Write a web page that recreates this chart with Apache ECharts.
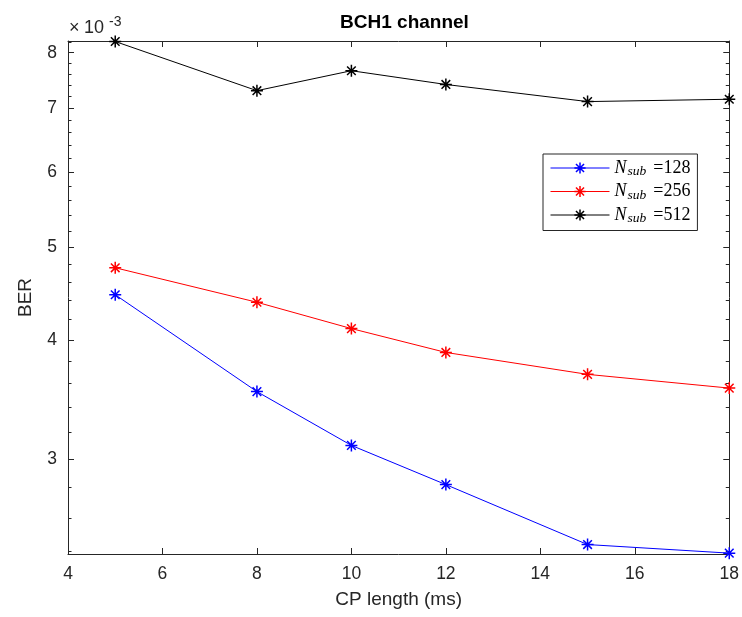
<!DOCTYPE html>
<html>
<head>
<meta charset="utf-8">
<script src="https://cdn.jsdelivr.net/npm/echarts@6/dist/echarts.min.js"></script>
<style>
html,body{margin:0;padding:0;background:#fff;}
#chart{width:742px;height:617px;}
</style>
</head>
<body>
<div id="chart"></div>
<script>
// CP length (ms)
const cpLength = [5, 8, 10, 12, 15, 18];
// BER values in units of 1e-3 (axis shows x10^-3)
const berNsub128 = [4.46, 3.53, 3.10, 2.82, 2.44, 2.39];
const berNsub256 = [4.76, 4.38, 4.11, 3.88, 3.68, 3.56];
const berNsub512 = [8.22, 7.30, 7.66, 7.41, 7.11, 7.15];
const seriesNames = ['128', '256', '512'];
const yMajorTicks = [3, 4, 5, 6, 7, 8];
const yMinorTicks = [2.4, 2.6, 2.8, 3.2, 3.4, 3.6, 3.8, 4.2, 4.4, 4.6, 4.8, 5.2, 5.4, 5.6, 5.8, 6.2, 6.4, 6.6, 6.8, 7.2, 7.4, 7.6, 7.8, 8.2];
const xTicks = [4, 6, 8, 10, 12, 14, 16, 18];

const axisColor = '#262626';
const sans = 'Liberation Sans, Arial, Helvetica, sans-serif';
const serif = 'Liberation Serif, Times New Roman, serif';
const yMin = 2.385, yMax = 8.23;
const star = 'path://M0,-5L0,5M-5,0L5,0M-3.6,-3.6L3.6,3.6M-3.6,3.6L3.6,-3.6';

const chart = echarts.init(document.getElementById('chart'), null, {renderer: 'canvas'});

function mkSeries(name, data, color) {
  return {
    name: name,
    type: 'line',
    xAxisIndex: 0,
    yAxisIndex: 0,
    data: cpLength.map((x, i) => [x, data[i]]),
    symbol: star,
    symbolSize: 12,
    showAllSymbol: true,
    clip: false,
    lineStyle: {color: color, width: 1},
    itemStyle: {color: color, borderColor: color, borderWidth: 1.5},
    emphasis: {disabled: true},
    animation: false
  };
}

function yAx(pos, customVals, len, showLabel, showLine) {
  return {
    type: 'log',
    logBase: 10,
    position: pos,
    min: yMin,
    max: yMax,
    axisLine: {show: showLine, lineStyle: {color: axisColor, width: 1}},
    axisTick: {show: true, inside: true, length: len, customValues: customVals, lineStyle: {color: axisColor, width: 1}},
    axisLabel: showLabel ? {
      show: true, customValues: yMajorTicks, margin: 11, color: axisColor,
      fontFamily: sans, fontSize: 17.5, formatter: v => String(Math.round(v))
    } : {show: false},
    splitLine: {show: false},
    minorTick: {show: false}
  };
}

const option = {
  backgroundColor: '#fff',
  animation: false,
  title: {
    text: 'BCH1 channel',
    left: 399.5,
    top: 8,
    textAlign: 'center',
    textStyle: {fontFamily: sans, fontSize: 19, fontWeight: 'bold', color: '#000'}
  },
  grid: {left: 68, right: 11, top: 41, bottom: 63, containLabel: false},
  legend: {
    orient: 'vertical',
    left: 543,
    top: 154,
    padding: [5, 7, 5, 7],
    itemGap: 4,
    itemWidth: 59,
    itemHeight: 14,
    backgroundColor: '#fff',
    borderColor: axisColor,
    borderWidth: 1,
    borderRadius: 0,
    lineStyle: {width: 1},
    itemStyle: {borderWidth: 1.5},
    data: seriesNames.map(n => 'N' + n),
    formatter: name => '{n|N}{s|sub}{v|=' + name.slice(1) + '}',
    textStyle: {
      color: '#000',
      rich: {
        n: {fontFamily: serif, fontStyle: 'italic', fontSize: 18, color: '#000'},
        s: {fontFamily: serif, fontStyle: 'italic', fontSize: 13.5, color: '#000', padding: [7, 0, 0, 1]},
        v: {fontFamily: serif, fontSize: 18, color: '#000', padding: [0, 0, 0, 7]}
      }
    }
  },
  xAxis: [
    {
      type: 'value', position: 'bottom', min: 4, max: 18, interval: 2,
      name: 'CP length (ms)', nameLocation: 'middle', nameGap: 36,
      nameTextStyle: {fontFamily: sans, fontSize: 19, color: axisColor},
      axisLine: {show: true, lineStyle: {color: axisColor, width: 1}},
      axisTick: {show: true, inside: true, length: 6, lineStyle: {color: axisColor}},
      axisLabel: {show: true, margin: 11, color: axisColor, fontFamily: sans, fontSize: 17.5, customValues: xTicks},
      splitLine: {show: false}
    },
    {
      type: 'value', position: 'top', min: 4, max: 18, interval: 2,
      axisLine: {show: true, lineStyle: {color: axisColor, width: 1}},
      axisTick: {show: true, inside: true, length: 6, lineStyle: {color: axisColor}},
      axisLabel: {show: false},
      splitLine: {show: false}
    }
  ],
  yAxis: [
    Object.assign(yAx('left', yMajorTicks, 6, true, true), {
      name: 'BER', nameLocation: 'middle', nameGap: 33,
      nameTextStyle: {fontFamily: sans, fontSize: 19, color: axisColor}
    }),
    yAx('left', yMinorTicks, 3.5, false, false),
    yAx('right', yMajorTicks, 6, false, true),
    yAx('right', yMinorTicks, 3.5, false, false)
  ],
  graphic: [
    {type: 'text', left: 69, top: 19, style: {text: '\u00d7', font: '18px ' + sans, fill: axisColor}},
    {type: 'text', left: 84, top: 19, style: {text: '10', font: '18px ' + sans, fill: axisColor}},
    {type: 'text', left: 109, top: 15, style: {text: '-3', font: '14px ' + sans, fill: axisColor}}
  ],
  series: [
    mkSeries('N128', berNsub128, '#0000ff'),
    mkSeries('N256', berNsub256, '#ff0000'),
    mkSeries('N512', berNsub512, '#000000')
  ]
};
chart.setOption(option);
</script>
</body>
</html>
